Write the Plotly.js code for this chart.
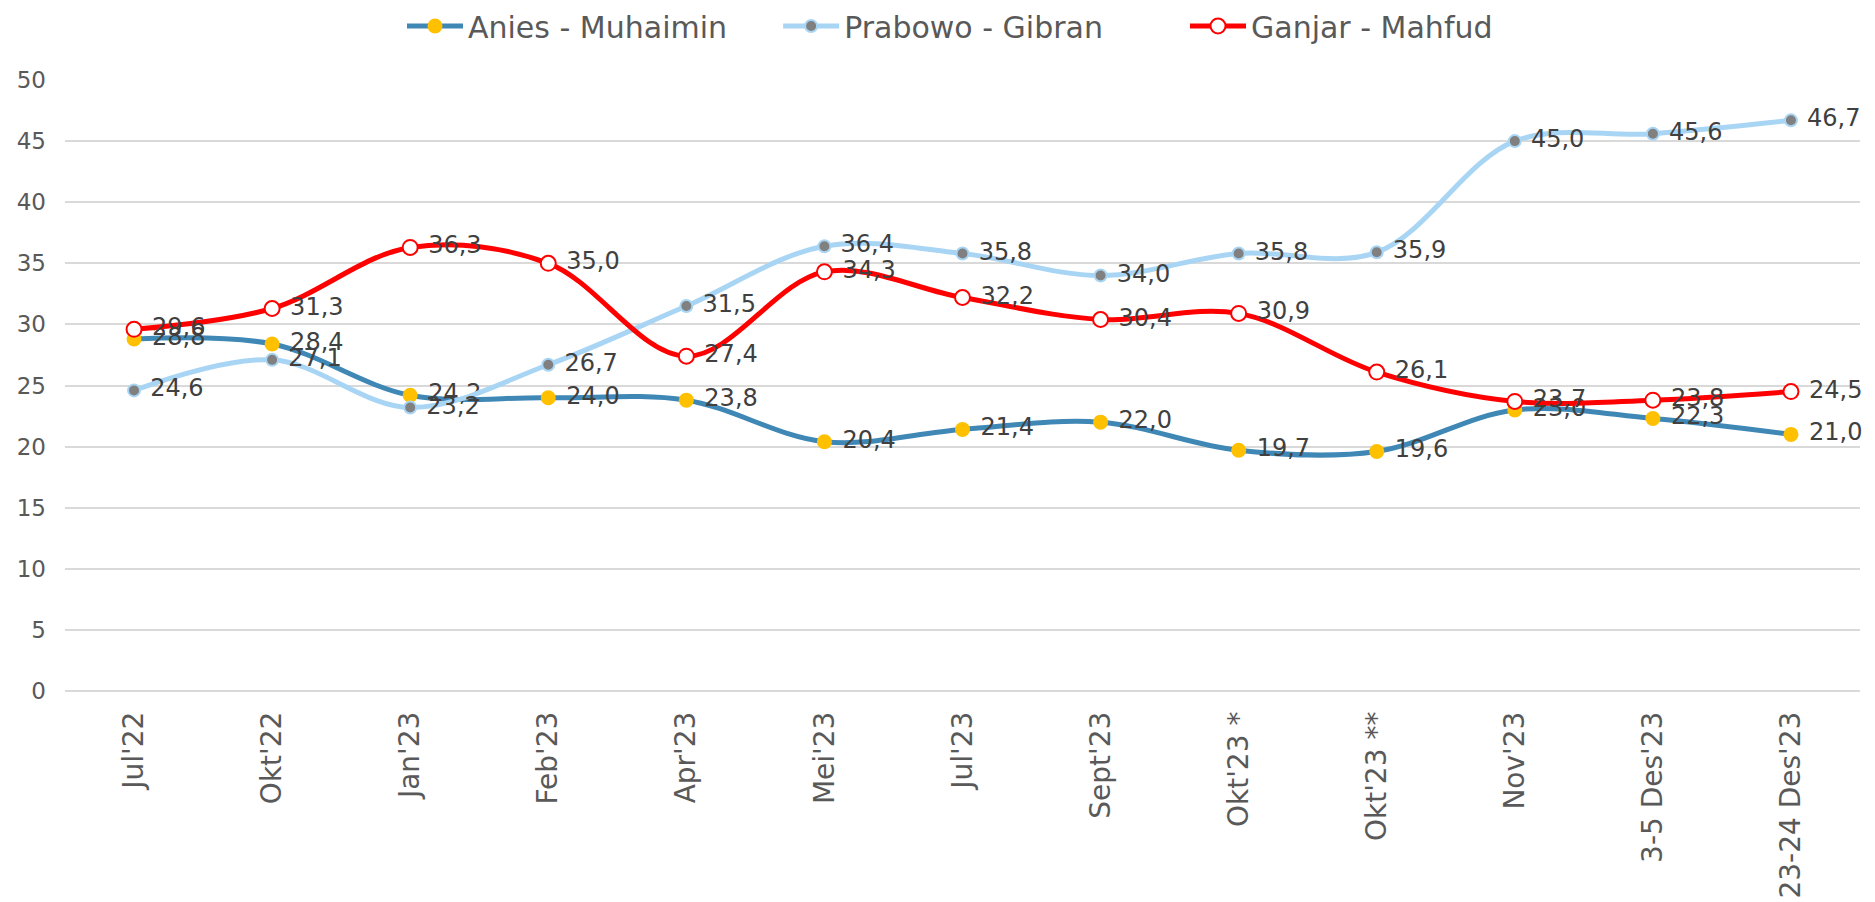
<!DOCTYPE html>
<html>
<head>
<meta charset="utf-8">
<script src="https://cdn.plot.ly/plotly-3.0.1.min.js"></script>
<style>html,body{margin:0;padding:0;background:#fff;}#chart{width:1875px;height:902px;}</style>
</head>
<body>
<div id="chart"></div>
<script>
const categories = ["Jul'22", "Okt'22", "Jan'23", "Feb'23", "Apr'23", "Mei'23", "Jul'23", "Sept'23", "Okt'23 *", "Okt'23 **", "Nov'23", "3-5 Des'23", "23-24 Des'23"];
const aniesMuhaimin = [28.8, 28.4, 24.2, 24.0, 23.8, 20.4, 21.4, 22.0, 19.7, 19.6, 23.0, 22.3, 21.0];
const prabowoGibran = [24.6, 27.1, 23.2, 26.7, 31.5, 36.4, 35.8, 34.0, 35.8, 35.9, 45.0, 45.6, 46.7];
const ganjarMahfud = [29.6, 31.3, 36.3, 35.0, 27.4, 34.3, 32.2, 30.4, 30.9, 26.1, 23.7, 23.8, 24.5];
const seriesNames = ["Anies - Muhaimin", "Prabowo - Gibran", "Ganjar - Mahfud"];

const FONT = "DejaVu Sans, sans-serif";
const labelFont = {family: FONT, size: 24, color: '#404040'};
const tmpl = '\u00a0%{y:.1f}';

const traces = [
  {
    x: categories, y: aniesMuhaimin, name: seriesNames[0], type: 'scatter', mode: 'lines+markers+text',
    legend: 'legend',
    line: {color: '#3F87B5', width: 5, shape: 'spline', smoothing: 1},
    marker: {color: '#FFC000', size: 15, line: {color: '#FFC000', width: 0}},
    texttemplate: tmpl, textposition: 'middle right', textfont: labelFont, cliponaxis: false
  },
  {
    x: categories, y: prabowoGibran, name: seriesNames[1], type: 'scatter', mode: 'lines+markers+text',
    legend: 'legend2',
    line: {color: '#A9D5F5', width: 5, shape: 'spline', smoothing: 1},
    marker: {color: '#808080', size: 12, line: {color: '#A9D5F5', width: 2}},
    texttemplate: tmpl, textposition: 'middle right', textfont: labelFont, cliponaxis: false
  },
  {
    x: categories, y: ganjarMahfud, name: seriesNames[2], type: 'scatter', mode: 'lines+markers+text',
    legend: 'legend3',
    line: {color: '#FF0000', width: 5, shape: 'spline', smoothing: 1},
    marker: {color: '#FFFFFF', size: 15, line: {color: '#FF0000', width: 2}},
    texttemplate: tmpl, textposition: 'middle right', textfont: labelFont, cliponaxis: false
  }
];

function legendAt(x) {
  return {
    orientation: 'h', xref: 'container', x: x, xanchor: 'left', y: 1.0, yref: 'container', yanchor: 'top',
    font: {family: FONT, size: 30, color: '#595959'},
    itemwidth: 56, bgcolor: 'rgba(0,0,0,0)'
  };
}

const layout = {
  width: 1875, height: 902,
  paper_bgcolor: '#ffffff', plot_bgcolor: '#ffffff',
  separators: ',.',
  margin: {l: 65, r: 15, t: 80, b: 211, pad: 0},
  font: {family: FONT, color: '#595959'},
  showlegend: true,
  legend: legendAt(0.2144),
  legend2: legendAt(0.415),
  legend3: legendAt(0.632),
  xaxis: {
    type: 'category', range: [-0.5, 12.5], showgrid: false, zeroline: false, showline: false,
    tickangle: -90, ticks: '', ticklabelstandoff: 14,
    tickfont: {family: FONT, size: 28, color: '#595959'}, fixedrange: true
  },
  yaxis: {
    range: [0, 50], tickvals: [0, 5, 10, 15, 20, 25, 30, 35, 40, 45, 50],
    showgrid: true, gridcolor: '#D9D9D9', gridwidth: 2,
    zeroline: true, zerolinecolor: '#D9D9D9', zerolinewidth: 2, showline: false,
    ticks: '', ticklabelstandoff: 18,
    tickfont: {family: FONT, size: 23, color: '#595959'}, fixedrange: true
  },
  annotations: [
    {text: '<b>Ket:</b>', xref: 'paper', yref: 'paper', x: 0.003, xanchor: 'left', y: -0.345, yanchor: 'top',
     showarrow: false, font: {family: FONT, size: 22, color: '#000000'}}
  ]
};

Plotly.newPlot('chart', traces, layout, {displayModeBar: false, staticPlot: true});
</script>
</body>
</html>
